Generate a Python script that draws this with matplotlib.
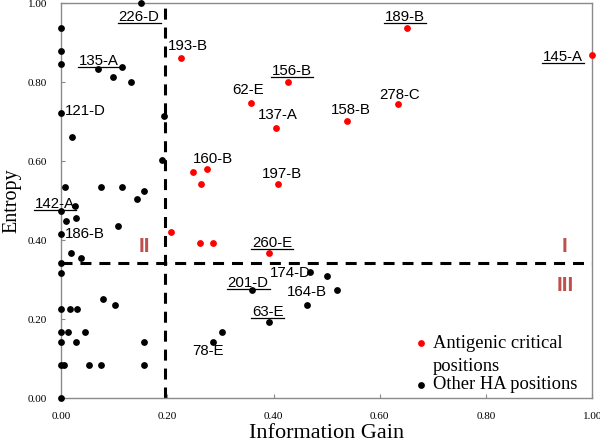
import numpy as np
import matplotlib
matplotlib.use("Agg")
import matplotlib.pyplot as plt
from matplotlib.lines import Line2D
from matplotlib.transforms import IdentityTransform

# other HA positions (black)
other_ig = [0.150, 0, 0, 0, 0.070, 0.115, 0.0975, 0.131, 0, 0.020, 0.193, 0.189,
            0.0075, 0.075, 0.114, 0.155, 0.143, 0, 0.026, 0.0094, 0.027, 0, 0.107,
            0.019, 0.038, 0, 0, 0.078, 0.102, 0, 0.016, 0.029, 0, 0.013, 0.045,
            0, 0.027, 0.156, 0, 0.006, 0.052, 0.075, 0.155, 0,
            0.469, 0.500, 0.520, 0.360, 0.462, 0.392, 0.303, 0.286]
other_ent = [1.00, 0.938, 0.879, 0.845, 0.834, 0.839, 0.814, 0.799, 0.722, 0.660, 0.715, 0.603,
             0.535, 0.535, 0.535, 0.523, 0.504, 0.474, 0.487, 0.449, 0.456, 0.415, 0.436,
             0.368, 0.355, 0.341, 0.317, 0.251, 0.235, 0.226, 0.226, 0.226, 0.167, 0.167, 0.167,
             0.142, 0.142, 0.142, 0.084, 0.084, 0.084, 0.084, 0.084, 0.0,
             0.318, 0.309, 0.274, 0.274, 0.236, 0.192, 0.167, 0.142]

# antigenic critical positions (red)
crit_ig = [0.225, 0.651, 0.999, 0.427, 0.357, 0.404, 0.539, 0.635, 0.248, 0.274,
           0.264, 0.409, 0.206, 0.262, 0.286, 0.392]
crit_ent = [0.862, 0.938, 0.869, 0.801, 0.748, 0.684, 0.702, 0.745, 0.573, 0.581,
            0.541, 0.541, 0.420, 0.392, 0.392, 0.368]

ig_cut = 0.195
ent_cut = 0.3425

# labelled sites
lab_names = ["226-D", "135-A", "121-D", "142-A", "186-B", "193-B", "189-B", "145-A",
             "156-B", "62-E", "137-A", "158-B", "278-C", "160-B", "197-B", "260-E",
             "174-D", "201-D", "164-B", "63-E", "78-E"]
lab_x = [0.150, 0.070, 0, 0, 0, 0.225, 0.651, 0.999, 0.427, 0.357, 0.404, 0.539, 0.635,
         0.274, 0.409, 0.392, 0.469, 0.360, 0.520, 0.392, 0.286]
lab_y = [1.00, 0.834, 0.722, 0.474, 0.415, 0.862, 0.938, 0.869, 0.801, 0.748, 0.684, 0.702,
         0.745, 0.581, 0.541, 0.368, 0.318, 0.274, 0.274, 0.192, 0.142]
underlined = {"226-D", "135-A", "142-A", "189-B", "145-A", "156-B", "260-E", "201-D", "63-E"}
# text offsets in points (centre x, baseline y)
offs = [(-1.2, -13.2), (0.4, 2.7), (17.6, -1.7), (-4.3, 1.9), (17.3, -2.9), (5.5, 5.5),
        (-1.1, 4.8), (-20.7, -4.5), (2.8, 4.8), (-2, 6.3), (1.4, 6.3), (2.7, 4.8),
        (0.9, 3.4), (4.8, 4.1), (2.7, 4.5), (2, 4.1), (-14.3, -3.4), (-3, 1.9),
        (-21.9, -4.5), (-1.2, 4.3), (-3.4, -9.4)]

serif = "Liberation Serif"
sans = "Liberation Sans"
quad_col = "#c0504d"
spine_col = "#8a8a8a"

fig = plt.figure(figsize=(6, 4.42), dpi=100)
ax = fig.add_axes([0.102, 0.0995, 0.885, 0.8935])

ax.axvline(ig_cut, color="black", lw=2.2, ls=(0, (3.6, 2.6)), zorder=1)
ax.axhline(ent_cut, color="black", lw=2.2, ls=(0, (3.6, 2.6)), zorder=1)

ax.scatter(crit_ig, crit_ent, s=15, color="red", zorder=3, clip_on=False)
ax.scatter(other_ig, other_ent, s=15, color="black", zorder=3, clip_on=False)

ax.set_xlim(0, 1)
ax.set_ylim(0, 1)
ticks = np.arange(0, 1.01, 0.2)
ax.set_xticks(ticks)
ax.set_yticks(ticks)
ax.set_xticklabels([f"{t:.2f}" for t in ticks], fontfamily=serif, fontsize=8)
ax.set_yticklabels([f"{t:.2f}" for t in ticks], fontfamily=serif, fontsize=8)
ax.tick_params(direction="in", length=3, color=spine_col, pad=10)
for sp in ax.spines.values():
    sp.set_color(spine_col)
    sp.set_linewidth(1)

ax.set_xlabel("Information Gain", fontfamily=serif, fontsize=16, labelpad=2.5)
ax.set_ylabel("Entropy", fontfamily=serif, fontsize=14.5, labelpad=5)

texts = []
for name, x, y, (dx, dy) in zip(lab_names, lab_x, lab_y, offs):
    t = ax.annotate(name, (x, y), xytext=(dx, dy), textcoords="offset points",
                    ha="center", va="baseline", fontfamily=sans, fontsize=10.8,
                    annotation_clip=False, zorder=4)
    texts.append((t, x, y, dy))

ax.text(0.156, 0.370, "II", color=quad_col, fontfamily=sans, fontweight="bold",
        fontsize=15, ha="center", va="baseline")
ax.text(0.948, 0.370, "I", color=quad_col, fontfamily=sans, fontweight="bold",
        fontsize=15, ha="center", va="baseline")
ax.text(0.950, 0.271, "III", color=quad_col, fontfamily=sans, fontweight="bold",
        fontsize=15, ha="center", va="baseline")

# legend, drawn by hand so the red dot sits on the first line
leg_kw = dict(transform=ax.transAxes, fontfamily=serif, fontsize=13.3,
              ha="left", va="baseline")
ax.scatter([0.677], [0.1385], s=15, color="red", transform=ax.transAxes, clip_on=False)
ax.scatter([0.677], [0.033], s=15, color="black", transform=ax.transAxes, clip_on=False)
ax.text(0.700, 0.1266, "Antigenic critical", **leg_kw)
ax.text(0.700, 0.0684, "positions", **leg_kw)
ax.text(0.700, 0.0228, "Other HA positions", **leg_kw)

# underlines
fig.canvas.draw()
for t, x, y, dy in texts:
    if t.get_text() not in underlined:
        continue
    bb = t.get_window_extent()
    base = ax.transData.transform((x, y))[1] + dy * fig.dpi / 72
    fig.add_artist(Line2D([bb.x0 - 1, bb.x1 + 1], [base - 2, base - 2], color="black",
                          lw=0.9, transform=IdentityTransform()))

fig.savefig("out.png", dpi=100)
